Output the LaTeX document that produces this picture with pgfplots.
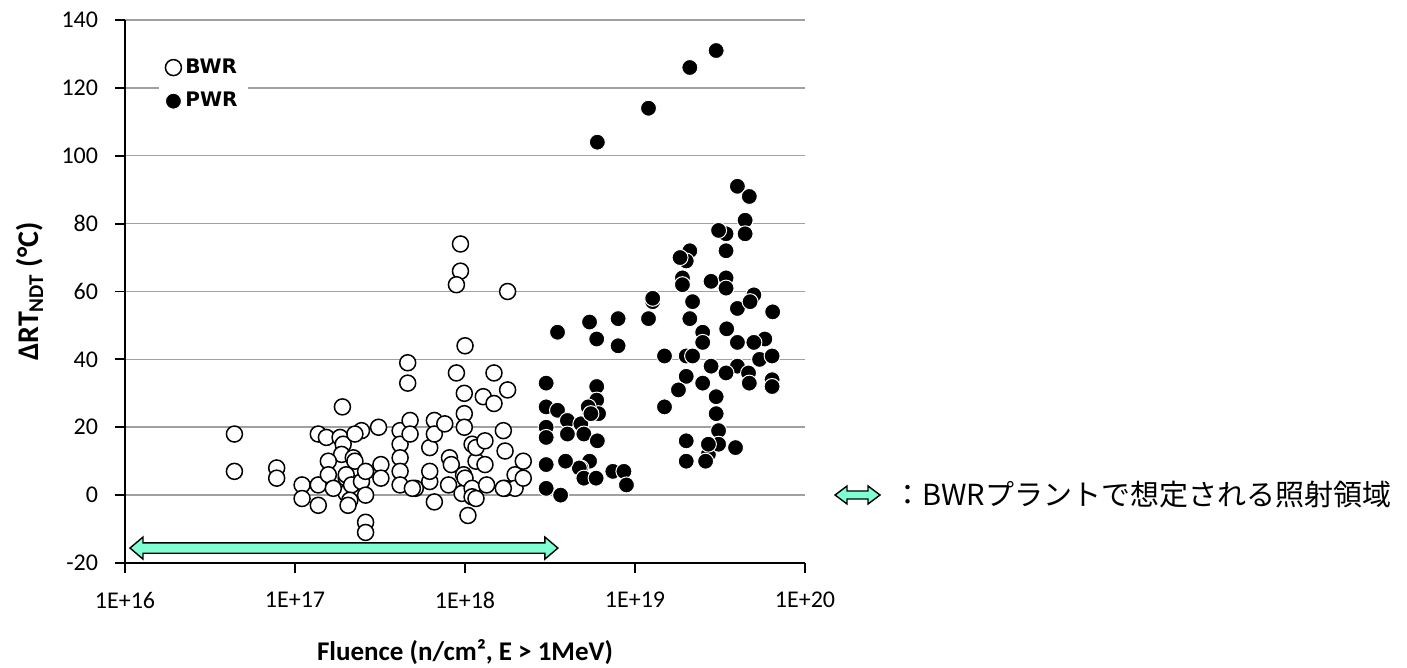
\documentclass[border=0pt]{standalone}
\usepackage{fontspec}
\setmainfont{Carlito}
\newfontfamily\legfont{DejaVu Sans}
\newfontfamily\jpfont{Noto Sans CJK JP}
\usepackage{pgfplots}
\pgfplotsset{compat=1.18}
\usetikzlibrary{calc}
\definecolor{aqua}{HTML}{7FFFD4}
\definecolor{gridgray}{HTML}{A0A0A0}

% double-headed block arrow between two named coordinates
% #1,#2 = ends, #3 = head length, #4 = head half width, #5 = shaft half width
\newcommand{\dblarrow}[5]{%
  \draw[fill=aqua, line width=0.7pt, line join=miter]
    (#1) -- ($(#1)+(#3,#4)$) -- ($(#1)+(#3,#5)$) -- ($(#2)+(-#3,#5)$)
    -- ($(#2)+(-#3,#4)$) -- (#2) -- ($(#2)+(-#3,-#4)$) -- ($(#2)+(-#3,-#5)$)
    -- ($(#1)+(#3,-#5)$) -- ($(#1)+(#3,-#4)$) -- cycle;}

\begin{document}
\begin{tikzpicture}
\begin{axis}[
  scale only axis, width=340pt, height=271.5pt,
  xmode=log, xmin=1e16, xmax=1e20, ymin=-20, ymax=140,
  axis x line*=bottom, axis y line*=left,
  axis line style={line width=0.9pt},
  xtick={1e16,1e17,1e18,1e19,1e20},
  xticklabels={1E+16,1E+17,1E+18,1E+19,1E+20},
  xminorticks=false,
  ytick={-20,0,20,40,60,80,100,120,140},
  yticklabels={-20,0,20,40,60,80,100,120,140},
  tick align=outside, major tick length=5pt,
  tick style={black, line width=0.9pt},
  ymajorgrids, grid style={gridgray, line width=0.75pt},
  tick label style={font=\fontsize{12}{14}\selectfont},
  xticklabel style={yshift=-6pt},
  yticklabel style={xshift=-5pt},
  xlabel={\bfseries Fluence (n/cm², E > 1MeV)},
  ylabel={\bfseries ΔRT\textsubscript{NDT} (°C)},
  xlabel style={font=\fontsize{13.5}{16}\selectfont,
    at={(axis description cs:0.5,-0.1639)}, anchor=center},
  ylabel style={font=\fontsize{15}{18}\selectfont,
    at={(axis description cs:-0.1397,0.5)}, anchor=center},
  legend style={at={(0.05,0.944)}, anchor=north west, draw=none, fill=white,
    font=\legfont\bfseries\fontsize{10}{12}\selectfont, row sep=4pt},
  legend cell align=left,
  clip=false,
]
% BWR
\addplot[only marks, mark=*, mark size=4pt,
  mark options={fill=white, draw=black, line width=0.75pt}] coordinates {
(9.4e17,74) (9.4e17,66) (8.9e17,62) (1.78e18,60) (1.0e18,44)
(4.6e17,39) (4.6e17,33) (8.9e17,36) (1.48e18,36) (9.9e17,30)
(1.28e18,29) (1.48e18,27) (1.78e18,31) (1.9e17,26)
(4.4e16,18) (4.4e16,7) (7.8e16,8) (7.8e16,5) (1.1e17,3) (1.1e17,-1)
(1.37e17,18) (1.53e17,17) (1.37e17,3) (1.37e17,-3) (1.84e17,17)
(1.92e17,15) (1.88e17,12) (2.2e17,11) (2.25e17,10) (1.57e17,10) (1.57e17,6)
(2.0e17,5) (2.0e17,0.5) (2.0e17,6) (2.15e17,3) (1.68e17,2) (2.1e17,-1.5) (2.05e17,-3)
(2.46e17,4) (2.6e17,0) (2.6e17,-8) (2.6e17,-11) (2.46e17,19) (2.25e17,18)
(3.1e17,20) (3.2e17,9) (3.2e17,5) (2.6e17,7)
(4.15e17,19) (4.15e17,15) (4.15e17,11) (4.15e17,7) (4.15e17,3)
(4.75e17,22) (4.75e17,18) (5.1e17,2) (4.9e17,2) (6.2e17,14) (6.6e17,22)
(6.6e17,18) (7.6e17,21) (6.6e17,-2) (6.2e17,4) (6.2e17,7) (8.0e17,3)
(8.1e17,11) (8.3e17,9) (9.9e17,24) (9.9e17,20) (9.8e17,6) (9.6e17,0.5)
(1.0e18,5) (1.1e18,2) (1.1e18,-0.5) (1.1e18,15) (1.04e18,-6) (1.16e18,-1)
(1.16e18,10) (1.16e18,14) (1.31e18,16) (1.31e18,9) (1.34e18,3)
(1.68e18,19) (1.72e18,13) (1.72e18,2) (1.97e18,6) (1.97e18,2)
(2.2e18,10) (2.2e18,5) (1.68e18,2)
};
\addlegendentry{BWR}
% PWR
\addplot[only marks, mark=*, mark size=4pt,
  mark options={fill=black, draw=white, line width=0.5pt}] coordinates {
(3.0e19,131) (2.1e19,126) (1.2e19,114) (6.0e18,104)
(4.0e19,91) (4.7e19,88) (4.44e19,81) (4.44e19,77) (3.43e19,77) (3.1e19,78)
(3.43e19,72) (2.1e19,72) (2.0e19,69) (1.84e19,70) (1.9e19,64) (1.9e19,62)
(2.8e19,63) (3.43e19,64) (3.43e19,61) (5.0e19,59)
(3.5e18,48) (5.4e18,51) (5.95e18,46) (7.95e18,52) (7.95e18,44)
(1.2e19,52) (1.27e19,57) (1.27e19,58) (2.18e19,57) (2.1e19,52)
(2.5e19,48) (2.5e19,45) (4.0e19,55) (4.75e19,57) (6.45e19,54)
(3.46e19,49) (4.0e19,45) (5.8e19,46) (5.4e19,40) (6.4e19,41) (5.0e19,45)
(1.49e19,41) (2.0e19,41) (2.18e19,41) (2.8e19,38) (4.0e19,38)
(4.65e19,36) (4.7e19,33) (6.4e19,34) (6.4e19,32) (3.43e19,36)
(2.0e19,35) (1.8e19,31) (2.5e19,33) (3.0e19,29) (3.0e19,24) (3.1e19,19)
(1.49e19,26) (2.0e19,16) (2.0e19,10) (2.7e19,12) (3.1e19,15) (3.9e19,14)
(2.6e19,10) (2.7e19,15)
(3.0e18,33) (3.0e18,26) (3.5e18,25) (3.0e18,20) (3.0e18,17)
(4.0e18,22) (4.0e18,18) (4.8e18,21) (5.0e18,18) (5.95e18,32) (5.95e18,28)
(6.1e18,24) (5.3e18,26) (5.5e18,24) (6.0e18,16) (5.4e18,10) (4.8e18,8)
(4.7e18,8) (5.0e18,5) (5.9e18,5) (3.9e18,10) (3.0e18,9) (3.0e18,2)
(3.65e18,0) (7.4e18,7) (8.6e18,7) (8.9e18,3)
};
\addlegendentry{PWR}
\coordinate (A) at (axis cs:1.07e16,-15.6);
\coordinate (B) at (axis cs:3.52e18,-15.6);
\end{axis}
\dblarrow{A}{B}{6.5pt}{5.5pt}{2.6pt}
\coordinate (C) at (355pt,34pt);
\coordinate (D) at (377.5pt,34pt);
\dblarrow{C}{D}{6pt}{4.5pt}{2pt}
\node[anchor=west, inner sep=0pt] at (384pt,34pt)
  {\jpfont\fontsize{14.5}{17}\selectfont ：BWRプラントで想定される照射領域};
\pgfresetboundingbox
\path (-62.5pt,-52.5pt) rectangle (641pt,281.5pt);
\end{tikzpicture}
\end{document}
